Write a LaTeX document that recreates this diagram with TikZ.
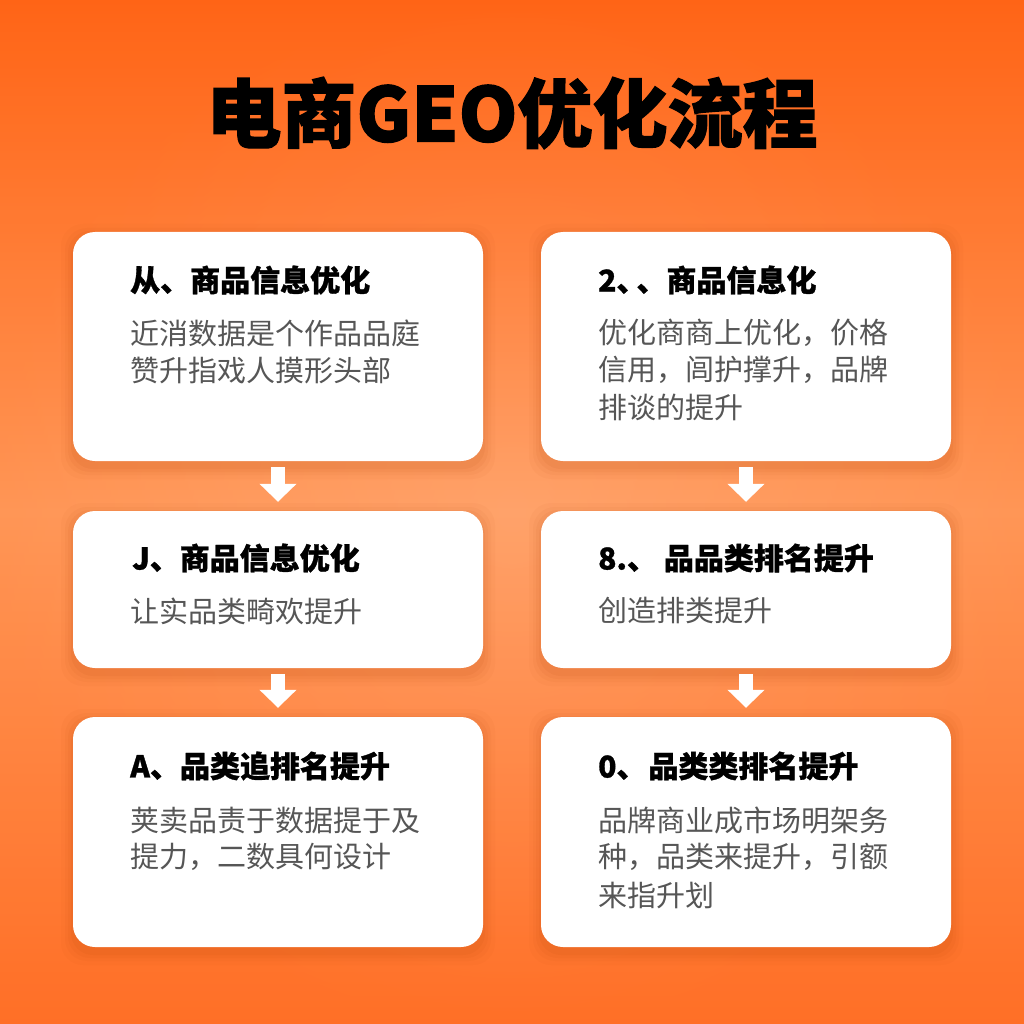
\documentclass[tikz,border=0pt]{standalone}
\usepackage{fontspec}
\newfontfamily\cjk{Noto Sans CJK SC}
\newfontfamily\cjkheavy{Noto Sans CJK SC}[BoldFeatures={FakeBold=1.6}]
\newfontfamily\cjkcard{Noto Sans CJK SC}[BoldFeatures={FakeBold=1.0}]
\usetikzlibrary{arrows.meta}
\definecolor{bgtop}{RGB}{255,94,14}
\definecolor{bgmid}{RGB}{255,150,86}
\definecolor{bgbot}{RGB}{255,106,32}
\definecolor{bodygray}{RGB}{86,86,86}
\definecolor{shadowc}{RGB}{170,60,0}
\tikzset{
 card/.style={fill=white, rounded corners=22pt, minimum width=410pt, inner sep=0pt, draw=none},
 ttl/.style={anchor=west, inner sep=0pt, font=\cjkcard\bfseries\fontsize{30}{36}\selectfont, text=black},
 bodytext/.style={anchor=west, inner sep=0pt, font=\cjk\fontsize{29}{36}\selectfont, text=bodygray},
 flow/.style={draw=white, line width=14pt, -{Triangle[width=36pt,length=18pt]}, shorten <=6pt, shorten >=9pt},
}
\newcommand{\cardshadow}[4]{%
  \foreach \s/\o in {12/0.03,8/0.04,5/0.05,2/0.06}{%
    \fill[shadowc, opacity=\o, rounded corners=22pt] (#1-\s,#2-\s+4) rectangle (#3+\s,#4+\s+6);
  }%
}
\begin{document}
\begin{tikzpicture}[x=1pt,y=-1pt]
\useasboundingbox (0,0) rectangle (1024,1024);
\shade[top color=bgtop, bottom color=bgbot, middle color=bgmid] (0,0) rectangle (1024,1024);
\shade[inner color=white, outer color=bgmid, opacity=0.12] (0,0) rectangle (1024,1024);

\node[font=\cjkheavy\bfseries\fontsize{75}{80}\selectfont, text=black, inner sep=0pt] (title) at (512,113) {电商GEO优化流程};

% shadows
\cardshadow{73}{232}{483}{461}
\cardshadow{541}{232}{951}{461}
\cardshadow{73}{511}{483}{668}
\cardshadow{541}{511}{951}{668}
\cardshadow{73}{717}{483}{947}
\cardshadow{541}{717}{951}{947}

% cards
\node[card, minimum height=229pt] (c1) at (278,346.5) {};
\node[card, minimum height=229pt] (c2) at (746,346.5) {};
\node[card, minimum height=157pt] (c3) at (278,589.5) {};
\node[card, minimum height=157pt] (c4) at (746,589.5) {};
\node[card, minimum height=230pt] (c5) at (278,832) {};
\node[card, minimum height=230pt] (c6) at (746,832) {};

% card 1
\node[ttl] (t1) at (130,280) {从、商品信息优化};
\node[bodytext] (b1a) at (130,333) {近消数据是个作品品庭};
\node[bodytext] (b1b) at (130,371) {赞升指戏人摸形头部};
% card 2
\node[ttl] (t2) at (598,280) {2、\kern-10pt、商品信息化};
\node[bodytext] (b2a) at (598,333) {优化商商上优化，价格};
\node[bodytext] (b2b) at (598,370) {信用，闾护撑升，品牌};
\node[bodytext] (b2c) at (598,407) {排谈的提升};
% card 3
\node[ttl] (t3) at (132,558) {J、商品信息优化};
\node[bodytext] (b3a) at (130,611) {让实品类畸欢提升};
% card 4
\node[ttl] (t4) at (598,558) {8.、 品品类排名提升};
\node[bodytext] (b4a) at (598,611) {创造排类提升};
% card 5
\node[ttl] (t5) at (130,766) {A、品类追排名提升};
\node[bodytext] (b5a) at (130,820) {荚卖品责于数据提于及};
\node[bodytext] (b5b) at (130,857) {提力，二数具何设计};
% card 6
\node[ttl] (t6) at (598,766) {0、\kern2pt品类类排名提升};
\node[bodytext] (b6a) at (598,820) {品牌商业成市场明架务};
\node[bodytext] (b6b) at (598,857) {种，品类来提升，引额};
\node[bodytext] (b6c) at (598,895) {来指升划};

% arrows
\draw[flow] (c1.south) -- (c3.north);
\draw[flow] (c2.south) -- (c4.north);
\draw[flow] (c3.south) -- (c5.north);
\draw[flow] (c4.south) -- (c6.north);
\end{tikzpicture}
\end{document}
